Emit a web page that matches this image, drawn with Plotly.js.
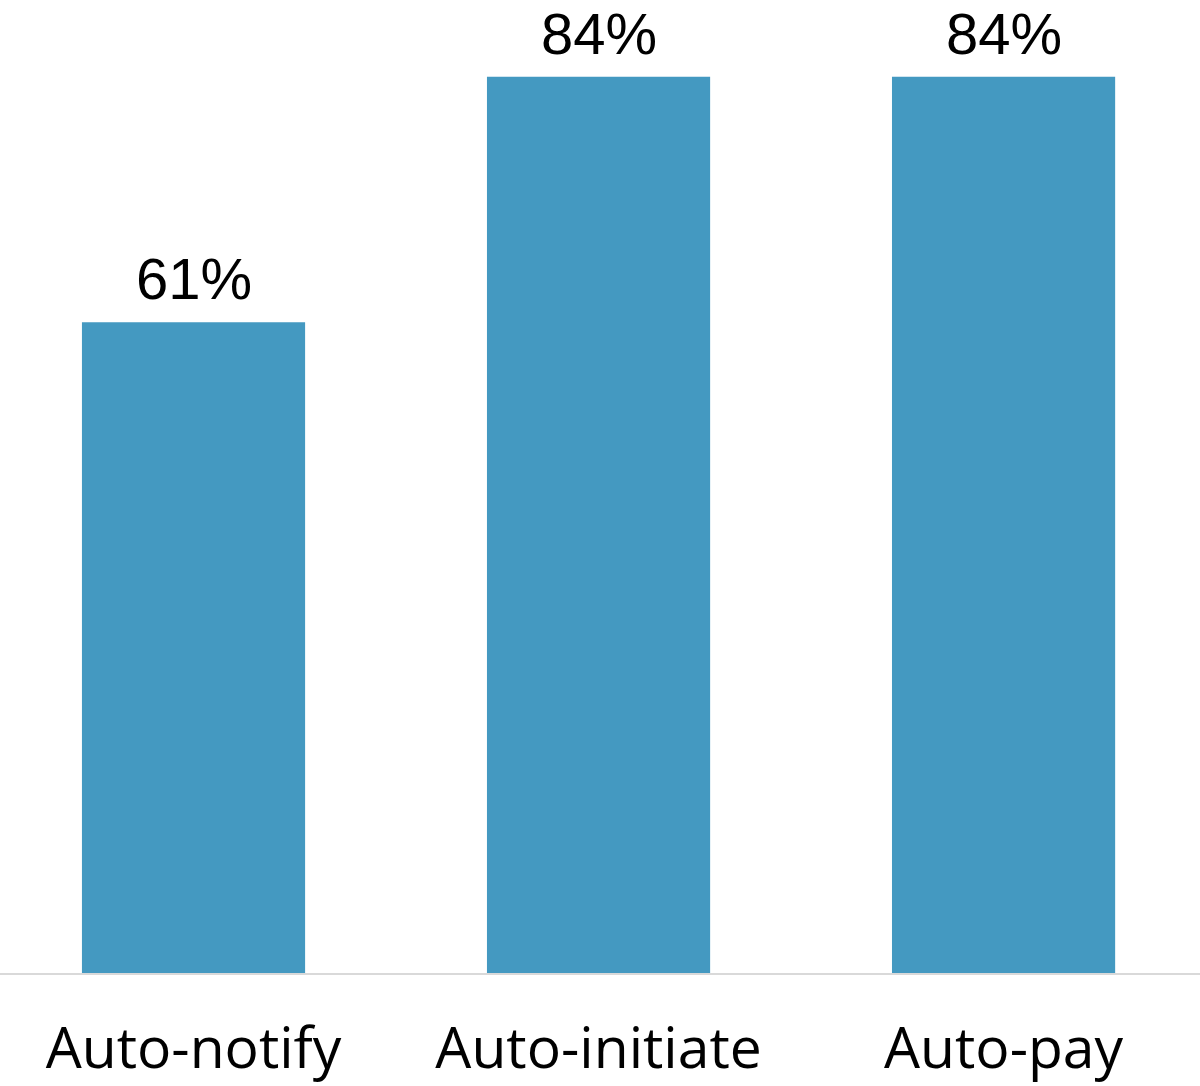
<!DOCTYPE html>
<html>
<head>
<meta charset="utf-8">
<script src="https://cdn.plot.ly/plotly-3.0.1.min.js"></script>
<style>html,body{margin:0;padding:0;background:#fff;}#chart{width:1200px;height:1086px;}</style>
</head>
<body>
<div id="chart"></div>
<script>
const categories = ["Auto-notify", "Auto-initiate", "Auto-pay"];
const values = [61, 84, 84];
const valueLabels = ["61%", "84%", "84%"];

const trace = {
  type: "bar",
  x: categories,
  y: values,
  marker: {color: "#4499C1"},
  hoverinfo: "skip"
};

const annotations = categories.map((c, i) => ({
  x: c, y: values[i], xref: "x", yref: "y",
  text: valueLabels[i], showarrow: false,
  yanchor: "bottom", yshift: 10, borderpad: 0,
  font: {family: "Liberation Sans, Arial, sans-serif", size: 58, color: "#000"}
}));

const layout = {
  width: 1200, height: 1086,
  margin: {l: 0, r: 0, t: 0, b: 113},
  paper_bgcolor: "#fff", plot_bgcolor: "#fff",
  showlegend: false,
  bargap: 0.449,
  xaxis: {
    type: "category",
    range: [-0.4778, 2.485],
    showline: true, linecolor: "#d9d9d9", linewidth: 2,
    ticks: "", showgrid: false, zeroline: false,
    ticklabelstandoff: 25,
    tickfont: {family: "Open Sans, sans-serif", size: 57, color: "#000"}
  },
  yaxis: {
    range: [0, 91.2], visible: false, showgrid: false, zeroline: false
  },
  annotations: annotations
};

Plotly.newPlot("chart", [trace], layout, {staticPlot: true, displayModeBar: false});
</script>
</body>
</html>
